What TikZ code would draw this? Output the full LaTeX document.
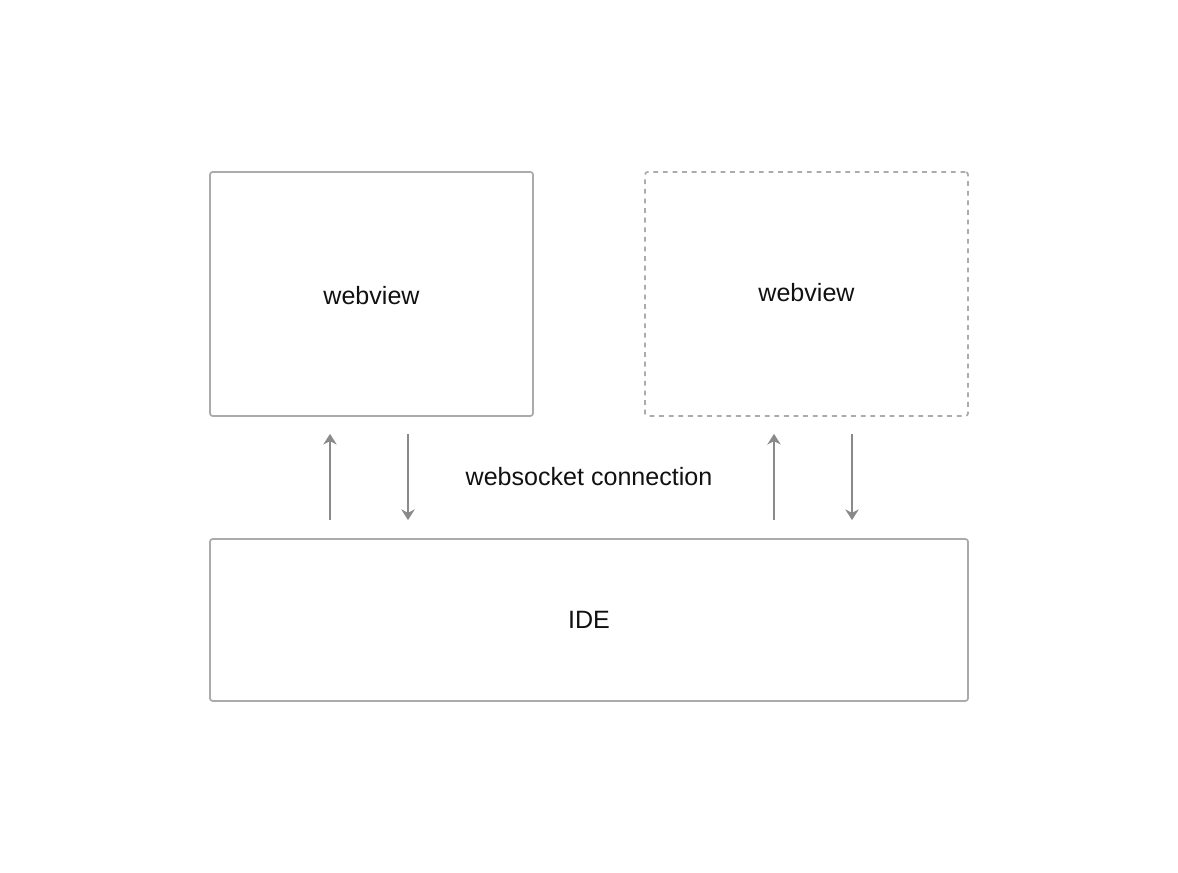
\documentclass[tikz,border=0pt]{standalone}
\usepackage{fontspec}
\setmainfont{Liberation Sans}
\usetikzlibrary{arrows.meta,calc}
\definecolor{boxgray}{HTML}{ABABAB}
\definecolor{arrowgray}{HTML}{8A8A8A}
\definecolor{txt}{HTML}{111111}

\begin{document}
\begin{tikzpicture}[x=0.75pt,y=0.75pt,
  panel/.style={draw=boxgray,line width=1.3pt,rounded corners=2pt,inner sep=0pt,
    text=txt,font=\fontsize{18.8}{22}\selectfont},
  link/.style={draw=arrowgray,line width=1.3pt,-{Stealth[width=10pt,length=8pt,inset=2.5pt]}}]
\useasboundingbox (0,0) rectangle (1178,873);

\node[panel,minimum width=242.25pt,minimum height=183pt] (wvA) at (371.5,579) {};
\node[text=txt,font=\fontsize{18.8}{22}\selectfont] (wvAlabel) at (371.5,577) {webview};
\node[panel,dashed,dash pattern=on 3.6pt off 3.6pt,minimum width=242.25pt,minimum height=183pt] (wvB) at (806.5,579) {};
\node[text=txt,font=\fontsize{18.8}{22}\selectfont] (wvBlabel) at (806.5,580) {webview};
\node[panel,minimum width=568.5pt,minimum height=121.5pt] (ide) at (589,253) {IDE};
\node[text=txt,font=\fontsize{18.8}{22}\selectfont] (ws) at (589,396) {websocket connection};

\draw[link] ($(ide.north)+(-259,18)$) -- ($(wvA.south)+(-41.5,-17)$);
\draw[link] ($(wvA.south)+(36.5,-17)$) -- ($(ide.north)+(-181,18)$);
\draw[link] ($(ide.north)+(185,18)$) -- ($(wvB.south)+(-32.5,-17)$);
\draw[link] ($(wvB.south)+(45.5,-17)$) -- ($(ide.north)+(263,18)$);
\end{tikzpicture}
\end{document}
